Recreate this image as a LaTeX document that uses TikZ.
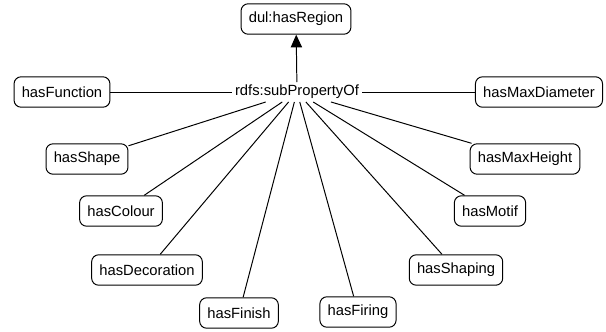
\documentclass[tikz,border=0pt]{standalone}
\usepackage{fontspec}
\setmainfont{Liberation Sans}
\usetikzlibrary {arrows.meta}
\tikzset{
        prop/.style={draw, rounded corners=5pt, minimum height=0.76cm,
                     inner xsep=5.5pt, line width=0.7pt},
        rel/.style={inner sep=2pt},
        link/.style={line width=0.7pt},
        myarrow/.style={-{Triangle[length=9pt, width=8pt]}, line width=0.7pt},
 }
\begin{document}
\begin{tikzpicture}[x=0.025cm, y=-0.025cm,
                    font=\fontsize{10.5}{12}\selectfont]
    \useasboundingbox (0,0) rectangle (606,331);
    \node[prop] (region) at (296,19) {dul:hasRegion};
    \node[rel] (sub) at (297,92) {rdfs:subPropertyOf};

    \node[prop] (function) at (62,92) {hasFunction};
    \node[prop] (shape) at (87,159) {hasShape};
    \node[prop] (colour) at (121,211) {hasColour};
    \node[prop] (decoration) at (147,270) {hasDecoration};
    \node[prop] (finish) at (239,313) {hasFinish};
    \node[prop] (firing) at (358,312) {hasFiring};
    \node[prop] (shaping) at (456,270) {hasShaping};
    \node[prop] (motif) at (490,211) {hasMotif};
    \node[prop] (height) at (525,159) {hasMaxHeight};
    \node[prop] (diameter) at (539,92) {hasMaxDiameter};

    \draw[myarrow] (sub) -- (region);
    \draw[link] (function) -- (sub);
    \draw[link] (sub) -- (diameter);
    \foreach \n in {shape, colour, decoration, finish, firing, shaping, motif, height}
        \draw[link] (sub) -- (\n);

\end{tikzpicture}
\end{document}
